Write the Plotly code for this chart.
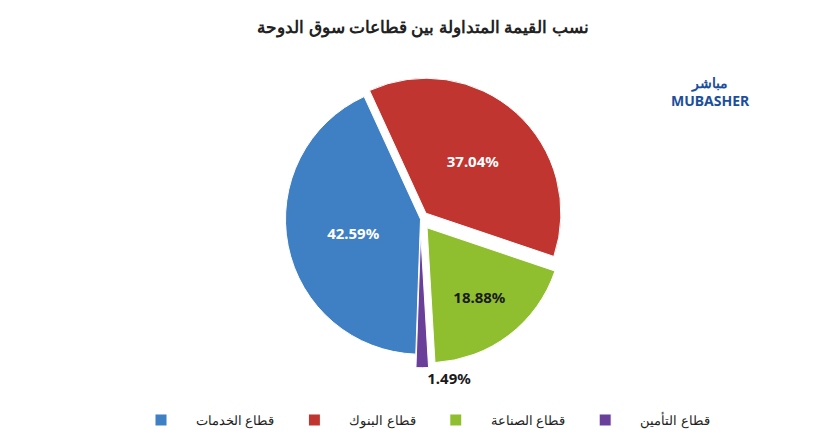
import plotly.graph_objects as go

labels = ["قطاع الخدمات", "قطاع البنوك", "قطاع الصناعة", "قطاع التأمين"]
values = [42.59, 37.04, 18.88, 1.49]
colors = ["#3f7fc4", "#c0352f", "#8fbf2f", "#6a3f9a"]
text_colors = ["white", "white", "#1a1a1a", "#1a1a1a"]

fig = go.Figure(go.Pie(
    labels=labels, values=values, sort=False, direction="clockwise",
    rotation=182, pull=[0, 0.06, 0.08, 0.1],
    marker=dict(colors=colors, line=dict(color="white", width=1)),
    texttemplate="<b>%{value:.2f}%</b>",
    textposition=["inside", "inside", "inside", "outside"],
    textfont=dict(color=text_colors, size=15, family="Noto Sans"),
    domain=dict(x=[0.1, 0.9], y=[0.18, 0.93]),
))

fig.update_layout(
    width=830, height=441, paper_bgcolor="white", showlegend=True,
    margin=dict(l=10, r=10, t=35, b=10),
    title=dict(text="<b>نسب القيمة المتداولة بين قطاعات سوق الدوحة</b>",
               x=0.5, y=0.97, font=dict(size=17, family="Noto Sans", color="#222")),
    legend=dict(orientation="h", x=0.5, xanchor="center", y=0.01, yanchor="bottom",
                font=dict(size=13, family="Noto Sans", color="#222"), itemwidth=60),
    annotations=[
        dict(text="<b>مباشر</b><br><b>MUBASHER</b>", x=0.99, y=0.93, xref="paper", yref="paper",
             xanchor="right", showarrow=False, font=dict(size=14, color="#1b4f9c", family="Noto Sans"))
    ],
)

fig.write_html("out.html")
